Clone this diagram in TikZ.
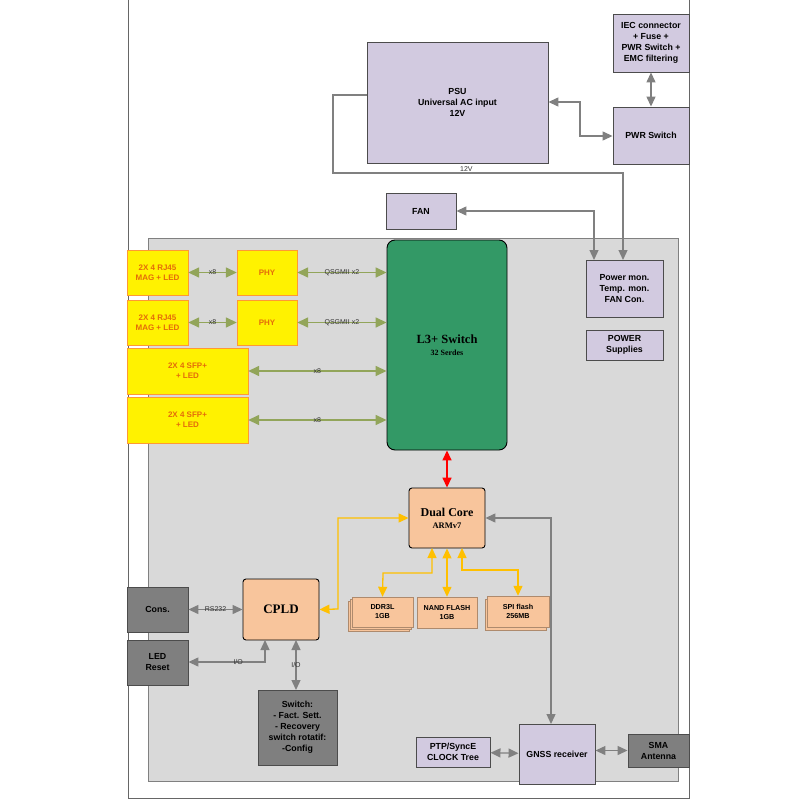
\documentclass[tikz,border=0pt]{standalone}
\usepackage{fontspec}
\setmainfont{Liberation Sans}
\newfontfamily\serifb{Liberation Serif}
\usetikzlibrary{arrows.meta,positioning}
\definecolor{lilac}{HTML}{D2CAE0}
\definecolor{boardgray}{HTML}{D9D9D9}
\definecolor{darkbox}{HTML}{7F7F7F}
\definecolor{peach}{HTML}{F8C59C}
\definecolor{swgreen}{HTML}{339966}
\definecolor{olive}{HTML}{92A55A}
\definecolor{amber}{HTML}{FFC000}
\definecolor{orangetxt}{HTML}{E46C0A}

\begin{document}
\begin{tikzpicture}[x=1pt,y=-1pt,font=\bfseries\fontsize{8.8}{11}\selectfont]
\tikzset{box/.style={draw=black!70, line width=0.9pt, fill=lilac, align=center, inner sep=0pt},
         gbox/.style={box, fill=darkbox},
         ybox/.style={draw=orange!80, fill=yellow, text=orangetxt, align=center, inner sep=0pt, font=\bfseries\fontsize{8}{10}\selectfont},
         pbox/.style={draw=black, line width=0.9pt, fill=peach, rounded corners=3pt, align=center, inner sep=0pt},
         mem/.style={draw=peach!70!black, fill=peach, align=center, inner sep=0pt, font=\bfseries\fontsize{7.2}{9}\selectfont},
         tip/.style={Triangle[length=10pt,width=9pt]},
         gln/.style={draw=gray, line width=1.3pt, {Triangle[length=10pt,width=9pt]}-{Triangle[length=10pt,width=9pt]}},
         oln/.style={draw=olive, line width=1.5pt, {Triangle[length=11pt,width=10pt]}-{Triangle[length=11pt,width=10pt]}},
         yln/.style={draw=amber, line width=1.3pt, {Triangle[length=10pt,width=9pt]}-{Triangle[length=10pt,width=9pt]}},
         lbl/.style={font=\fontsize{7}{8}\selectfont, text=black!80, inner sep=1pt}}
\useasboundingbox (0,0) rectangle (800,800);
\fill[white] (0,0) rectangle (800,800);
% page frame and board
\draw[black!60] (128,0) -- (128,798) -- (689,798) -- (689,0);
\draw[black!50, fill=boardgray] (148,238) rectangle (678,781);

% power section
\node[box, minimum width=76pt, minimum height=58pt] (iec) at (651,43) {IEC connector\\+ Fuse +\\PWR Switch +\\EMC filtering};
\node[box, minimum width=181pt, minimum height=121pt] (psu) at (457.5,102.5) {PSU\\Universal AC input\\12V};
\node[box, minimum width=76pt, minimum height=57pt] (pwrsw) at (651,135.5) {PWR Switch};
\node[box, minimum width=70pt, minimum height=36pt] (fan) at (421,211) {FAN};
\node[box, minimum width=77pt, minimum height=57pt] (pmon) at (624.5,288.5) {Power mon.\\Temp. mon.\\FAN Con.};
\node[box, minimum width=77pt, minimum height=30pt] (psup) at (624.5,345) {POWER\\Supplies};

% network ports
\node[ybox, minimum width=61pt, minimum height=45pt] (rj1) at (157.5,272.5) {2X 4 RJ45\\MAG + LED};
\node[ybox, minimum width=61pt, minimum height=45pt] (rj2) at (157.5,322.5) {2X 4 RJ45\\MAG + LED};
\node[ybox, minimum width=60pt, minimum height=45pt] (phy1) at (267,272.5) {PHY};
\node[ybox, minimum width=60pt, minimum height=45pt] (phy2) at (267,322.5) {PHY};
\node[ybox, minimum width=121pt, minimum height=46pt] (sfp1) at (187.5,371) {2X 4 SFP+\\+ LED};
\node[ybox, minimum width=121pt, minimum height=46pt] (sfp2) at (187.5,420) {2X 4 SFP+\\+ LED};
\node[draw=black, line width=0.9pt, fill=swgreen, rounded corners=8pt, minimum width=120pt, minimum height=210pt, align=center, font=\serifb\bfseries] (l3sw) at (447,345) {{\fontsize{12.5}{12}\selectfont L3+ Switch}\\{\fontsize{8}{9}\selectfont 32 Serdes}};

% processor section
\node[pbox, minimum width=76pt, minimum height=60pt, font=\serifb\bfseries] (cpu) at (447,518) {{\fontsize{12}{13}\selectfont Dual Core}\\{\fontsize{8.5}{9}\selectfont ARMv7}};
\node[pbox, minimum width=76pt, minimum height=61pt, font=\serifb\bfseries\fontsize{13}{14}\selectfont] (cpld) at (281,609.5) {CPLD};
\foreach \d in {4,2}
  \draw[peach!70!black, fill=peach] (352-\d,597+\d) rectangle (413-\d,627+\d);
\node[mem, minimum width=61pt, minimum height=30pt] (ddr) at (382.5,612) {DDR3L\\1GB};
\node[mem, minimum width=60pt, minimum height=31pt] (nand) at (447,612.5) {NAND FLASH\\1GB};
\draw[peach!70!black, fill=peach] (485,599) rectangle (546,630);
\node[mem, minimum width=62pt, minimum height=31pt] (spi) at (518,611.5) {SPI flash\\256MB};
\node[gbox, minimum width=61pt, minimum height=45pt] (cons) at (157.5,609.5) {Cons.};
\node[gbox, minimum width=61pt, minimum height=45pt] (led) at (157.5,662.5) {LED\\Reset};
\node[gbox, minimum width=79pt, minimum height=75pt] (rsw) at (297.5,727.5) {Switch:\\- Fact. Sett.\\- Recovery\\switch rotatif:\\-Config};
\node[box, minimum width=74pt, minimum height=30pt] (ptp) at (453,752) {PTP/SyncE\\CLOCK Tree};
\node[box, minimum width=76pt, minimum height=60pt] (gnss) at (557,754) {GNSS receiver};
\node[gbox, minimum width=61pt, minimum height=33pt] (sma) at (658.5,750.5) {SMA\\Antenna};

% power connectors
\draw[draw=gray, line width=1.3pt, -{Triangle[length=10pt,width=9pt]}] (psu.west |- 0,95) -- (333,95) -- (333,173) -- node[lbl, above, pos=0.46, inner sep=0.5pt] {12V} (623,173) -- (623,260);
\draw[gln] (psu.east |- 0,102) -- (580,102) -- (580,136) -- (pwrsw.west |- 0,136);
\draw[gln] (iec) -- (pwrsw);
\draw[gln] (fan.east |- 0,211) -- (594,211) -- (594,260);

% network connectors
\draw[oln] (rj1) -- node[lbl] {x8} (phy1);
\draw[oln] (rj2) -- node[lbl] {x8} (phy2);
\draw[oln] (phy1) -- node[lbl] {QSGMII x2} (l3sw.west |- phy1);
\draw[oln] (phy2) -- node[lbl] {QSGMII x2} (l3sw.west |- phy2);
\draw[oln] (sfp1) -- node[lbl] {x8} (l3sw.west |- sfp1);
\draw[oln] (sfp2) -- node[lbl] {x8} (l3sw.west |- sfp2);
\draw[draw=red, line width=1.5pt, {Triangle[length=10pt,width=9pt]}-{Triangle[length=10pt,width=9pt]}] (l3sw) -- (cpu);

% processor connectors
\draw[yln] (cpu.west) -- (338,518) -- (338,609) -- (cpld.east);
\draw[yln] (432,548) -- (432,573) -- (383,573) -- (ddr.north);
\draw[yln] (cpu) -- (nand);
\draw[yln] (462,548) -- (462,570) -- (518,570) -- (spi.north);
\draw[gln] (cpu.east) -- (551,518) -- (551,724);
\draw[gln] (cons) -- node[lbl] {RS232} (cpld);
\draw[gln] (led.east |- 0,662) -- node[lbl, pos=0.65] {I/O} (265,662) -- (265,640);
\draw[gln] (296,640) -- node[lbl] {I/O} (296,690);
\draw[gln] (ptp) -- (gnss);
\draw[gln] (gnss.east |- sma) -- (sma);
\end{tikzpicture}
\end{document}
